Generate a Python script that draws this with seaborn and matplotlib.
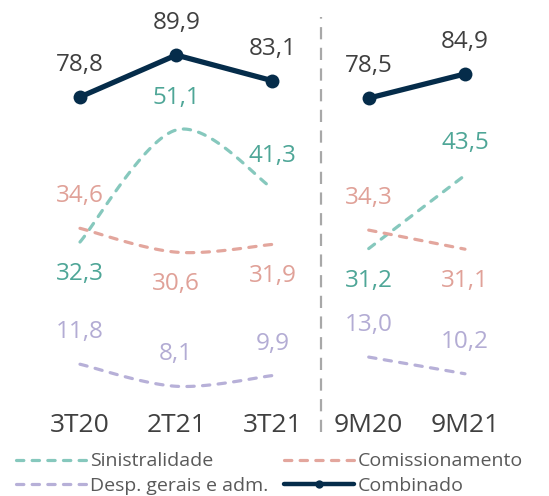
import numpy as np
import pandas as pd
import matplotlib
matplotlib.use("Agg")
import matplotlib.pyplot as plt
from matplotlib.lines import Line2D
import seaborn as sns

# dados (em %)
periodos = ["3T20", "2T21", "3T21", "9M20", "9M21"]
paineis = [[0, 1, 2], [3, 4]]
sinistralidade = [32.3, 51.1, 41.3, 31.2, 43.5]
comissionamento = [34.6, 30.6, 31.9, 34.3, 31.1]
desp_gerais = [11.8, 8.1, 9.9, 13.0, 10.2]
combinado = [78.8, 89.9, 83.1, 78.5, 84.9]

cor_sin, cor_sin_txt = "#86c8bd", "#4ea697"
cor_com, cor_com_txt = "#e3a69d", "#e0a198"
cor_desp, cor_desp_txt = "#b7b0d8", "#b3acd4"
cor_comb = "#052c4a"
cor_txt = "#404040"

sns.set_theme(style="white")
plt.rcParams["font.family"] = ["Open Sans", "DejaVu Sans"]


def suavizar(x, y, n=40):
    # curva suave estilo excel (bezier passando pelos pontos)
    p = np.column_stack([x, y]).astype(float)
    p = np.vstack([p[0], p, p[-1]])
    t = np.linspace(0, 1, n)[:, None]
    partes = []
    for i in range(len(x) - 1):
        a, b = p[i + 1], p[i + 2]
        c1 = a + (p[i + 2] - p[i]) / 6
        c2 = b - (p[i + 3] - p[i + 1]) / 6
        partes.append((1 - t) ** 3 * a + 3 * (1 - t) ** 2 * t * c1
                      + 3 * (1 - t) * t ** 2 * c2 + t ** 3 * b)
    return np.vstack(partes)


fig = plt.figure(figsize=(5.49, 4.96), dpi=100)
ax = fig.add_axes([0, 96 / 496, 1, 400 / 496])
ax2 = ax.twinx()

tracejado = (0, (2.3, 2.6))
series = [
    (sinistralidade, cor_sin, cor_sin_txt, [-1, 1, 1, -1, 1]),
    (comissionamento, cor_com, cor_com_txt, [1, -1, -1, 1, -1]),
    (desp_gerais, cor_desp, cor_desp_txt, [1, 1, 1, 1, 1]),
]

for valores, cor, cor_rot, lados in series:
    for idx in paineis:
        curva = suavizar(idx, [valores[i] for i in idx])
        sns.lineplot(x=curva[:, 0], y=curva[:, 1], ax=ax, sort=False,
                     estimator=None, color=cor, lw=2.3, linestyle=tracejado,
                     dash_capstyle="round")
    for i, v in enumerate(valores):
        ax.annotate(f"{v:.1f}".replace(".", ","), (i, v), xytext=(0, 23 * lados[i]),
                    textcoords="offset points", ha="center", va="center",
                    fontsize=17.5, color=cor_rot)

for idx in paineis:
    df = pd.DataFrame({"x": idx, "y": [combinado[i] for i in idx]})
    sns.lineplot(data=df, x="x", y="y", ax=ax2, color=cor_comb, lw=3.8,
                 marker="o", markersize=10, markeredgewidth=0)
for i, v in enumerate(combinado):
    ax2.annotate(f"{v:.1f}".replace(".", ","), (i, v), xytext=(0, 23),
                 textcoords="offset points", ha="center", va="center",
                 fontsize=17.5, color=cor_txt)

ax.axvline(2.5, ymin=-0.08, ymax=0.9575, clip_on=False, color="#a8a8a8",
           lw=1.6, linestyle=(0, (5.5, 3.8)))

ax.set_xlim(-0.831, 4.873)
ax.set_ylim(5.8, 72.9)
ax2.set_ylim(-1.36, 104.46)
ax.set_xticks(range(len(periodos)))
ax.set_xticklabels(periodos, fontsize=19, color=cor_txt)
ax.tick_params(axis="x", length=0, pad=9)
for a in (ax, ax2):
    a.set_yticks([])
    a.set_ylabel("")
    a.set_xlabel("")
    for s in a.spines.values():
        s.set_visible(False)

alca = dict(lw=2.3, linestyle=tracejado, dash_capstyle="round")
alcas = [
    Line2D([], [], color=cor_sin, **alca),
    Line2D([], [], color=cor_desp, **alca),
    Line2D([], [], color=cor_com, **alca),
    Line2D([], [], color=cor_comb, lw=3.2, marker="o", markersize=6, markeredgewidth=0),
]
rotulos = ["Sinistralidade", "Desp. gerais e adm.", "Comissionamento", "Combinado"]
fig.legend(alcas, rotulos, loc="upper left", bbox_to_anchor=(0.03, 0.088), ncol=2,
           frameon=False, fontsize=14, labelcolor="#595959", handlelength=3.6,
           handletextpad=0.2, columnspacing=0.8, labelspacing=0.35,
           borderaxespad=0, borderpad=0)

fig.savefig("out.png", dpi=100)
